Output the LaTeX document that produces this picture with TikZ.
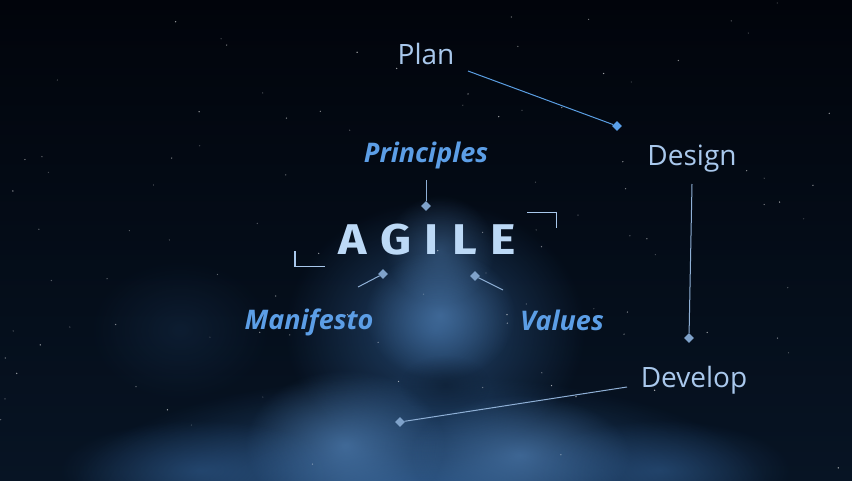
\documentclass[tikz,border=0pt]{standalone}
\usepackage{fontspec}
\setmainfont{Open Sans}
\newfontfamily\agilefont{Fira Sans}
\usetikzlibrary{fadings,shapes.geometric}
\tikzfading[name=softglow, inner color=transparent!0, outer color=transparent!100]
\definecolor{bgtop}{HTML}{01040B}
\definecolor{bgbot}{HTML}{071424}
\definecolor{nebula}{HTML}{3A6EAA}
\definecolor{nebulalt}{HTML}{5F93CC}
\definecolor{stagecol}{HTML}{A9C8EC}
\definecolor{facetcol}{HTML}{5C9EE6}
\definecolor{agilecol}{HTML}{BCD9F6}
\definecolor{pincol}{HTML}{7FA2CA}
\definecolor{pinbright}{HTML}{5AA0EA}
\definecolor{linkcol}{HTML}{8FB0D6}
\definecolor{linkbright}{HTML}{5A9EE2}
\tikzset{
  stage/.style={font=\fontsize{28}{30}\selectfont, text=stagecol, inner sep=0},
  facet/.style={font=\fontsize{27}{29}\selectfont\bfseries\itshape, text=facetcol, inner sep=0},
  pin/.style={diamond, fill=pincol, minimum width=10pt, minimum height=10pt, inner sep=0},
  link/.style={draw=linkcol, line width=1pt},
  bracket/.style={draw=stagecol, line width=1.8pt},
  blob/.style={path fading=softglow},
}
\begin{document}
\begin{tikzpicture}[x=1pt,y=-1pt]
\useasboundingbox (0,0) rectangle (852,480);
% background
\shade[top color=bgtop, bottom color=bgbot] (0,0) rectangle (852,480);
% nebula
\fill[blob, nebula, opacity=0.75] (420,495) ellipse (350 and 120);
\fill[blob, nebula, opacity=0.55] (435,330) ellipse (150 and 130);
\fill[blob, nebulalt, opacity=0.5] (440,315) ellipse (75 and 65);
\fill[blob, nebulalt, opacity=0.35] (440,250) ellipse (55 and 55);
\fill[blob, nebulalt, opacity=0.55] (345,445) ellipse (100 and 75);
\fill[blob, nebulalt, opacity=0.5] (520,455) ellipse (110 and 60);
\fill[blob, nebula, opacity=0.4] (200,470) ellipse (140 and 50);
\fill[blob, nebula, opacity=0.4] (660,470) ellipse (130 and 50);
\fill[blob, nebula, opacity=0.15] (180,330) ellipse (90 and 70);
\fill[blob, bgbot, opacity=0.45] (445,385) ellipse (45 and 30);
% stars
\pgfmathsetseed{11}
\foreach \i in {1,...,100}{
  \pgfmathsetmacro\sx{rnd*852}
  \pgfmathsetmacro\sy{rnd*480}
  \pgfmathsetmacro\so{0.2+0.5*rnd}
  \fill[white, opacity=\so] (\sx,\sy) circle (0.7);
}
% labels
\node[stage] (plan) at (426,54) {Plan};
\node[stage] (design) at (692,159) {Design};
\node[stage] (develop) at (694,380) {Develop};
\node[facet] (principles) at (426,155) {Principles};
\node[facet] (manifesto) at (309,322) {Manifesto};
\node[facet] (values) at (562,320) {Values};
\node[inner sep=0, text=agilecol, font=\agilefont\bfseries\fontsize{43}{45}\selectfont] (agile) at (427,240)
  {\scalebox{1.12}[1]{A\kern12pt G\kern12pt I\kern12pt L\kern12pt E}};
% brackets
\draw[bracket] (295,251) -- (295,266.5) -- (325,266.5);
\draw[bracket] (527,212.5) -- (556.5,212.5) -- (556.5,228);
% connectors
\coordinate (planstart) at (468,71);
\node[pin, fill=pinbright] (planpin) at (617,126) {};
\draw[link, draw=linkbright] (planstart) -- (planpin);
\coordinate (designstart) at (692,184);
\node[pin] (designpin) at (689,338) {};
\draw[link] (designstart) -- (designpin);
\coordinate (developstart) at (627,387);
\node[pin] (developpin) at (400,422) {};
\draw[link] (developstart) -- (developpin);
\coordinate (principlesstart) at (426,180);
\node[pin] (principlespin) at (426,206) {};
\draw[link] (principlesstart) -- (principlespin);
\coordinate (manifestostart) at (358,287);
\node[pin] (manifestopin) at (383,274) {};
\draw[link] (manifestostart) -- (manifestopin);
\coordinate (valuesstart) at (503,290);
\node[pin] (valuespin) at (475,276) {};
\draw[link] (valuesstart) -- (valuespin);
\end{tikzpicture}
\end{document}
